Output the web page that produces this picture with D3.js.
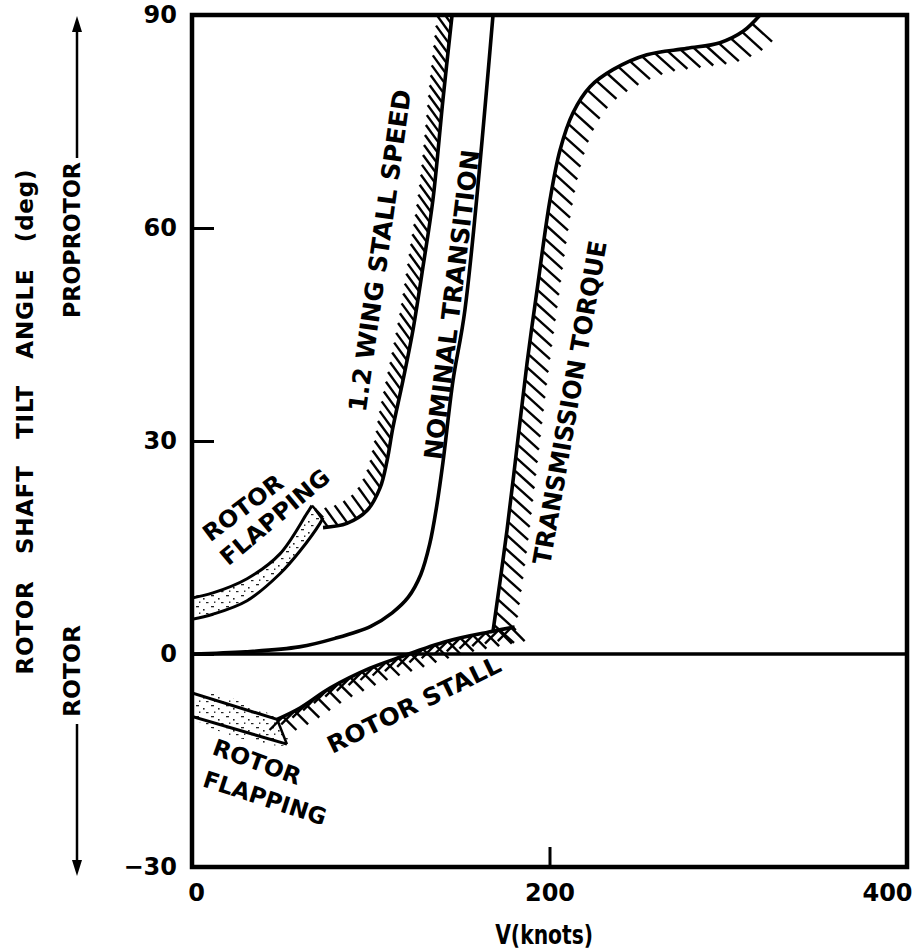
<!DOCTYPE html>
<html>
<head>
<meta charset="utf-8">
<script src="https://cdn.jsdelivr.net/npm/d3@7"></script>
<style>
body { margin: 0; background: #fff; }
text { font-family: "DejaVu Sans", "Liberation Sans", sans-serif; font-weight: bold; fill: #000; white-space: pre; }
</style>
</head>
<body>
<script>
//Width and height
var w = 917;
var h = 952;

//Tick values
var xTicks = [0, 200, 400];
var yTicks = [-30, 0, 30, 60, 90];

//Boundaries, [V knots, tilt deg]
var nominalTransition = [[0,0],[30,0.3],[60,1.0],[80,2.2],[100,3.9],[112,5.8],[121,8.0],[128,11.2],[133,15.5],[137,21],[140.4,27],[146,38.5],[152.7,48.5],[168.4,90]];
var wingStall = [[73.3,17.8],[86.7,18.4],[97.9,20.2],[105.2,23.4],[109.1,27.2],[112.4,31.9],[118,38.5],[123.6,45.6],[129.2,54.5],[134.8,64],[140.4,78.1],[145.5,90]];
var transmissionTorque = [[168.4,3.2],[176.2,17.4],[181.8,29.1],[187.4,40.9],[193,51.2],[200.3,64],[205.9,71],[213.1,76.2],[222.7,79.9],[235.5,82.3],[254.5,84.4],[276.9,85.3],[295.4,86.1],[308.3,87.7],[317.8,90]];
var rotorStall = [[47.6,-9.2],[60.4,-7.6],[77.2,-4.8],[99.6,-2.0],[114.7,-0.6],[142.7,1.8],[168.4,3.2],[180.5,3.8]];

//Rotor flapping bands: upper edge then lower edge
var flapHighTop = [[0,7.9],[11.7,8.6],[30.8,10.6],[49.2,14.1],[64.3,19.8],[67.1,20.9]];
var flapHighBottom = [[0,4.9],[11.7,5.6],[30.8,7.5],[49.2,11.3],[60.4,14.5],[71.6,18.4],[73.3,19.2]];
var flapLowTop = [[0,-5.5],[47.6,-9.2]];
var flapLowBottom = [[0,-8.8],[53.1,-12.7]];

var xScale = d3.scaleLinear().domain([0, 400]).range([192, 907]);
var yScale = d3.scaleLinear().domain([-30, 90]).range([867, 15]);

var svg = d3.select("body")
            .append("svg")
            .attr("width", w)
            .attr("height", h);

var defs = svg.append("defs");
defs.append("clipPath").attr("id", "plot")
    .append("rect")
    .attr("x", xScale(0)).attr("y", yScale(90))
    .attr("width", xScale(400) - xScale(0))
    .attr("height", yScale(-30) - yScale(90));

//stipple for the flapping bands
var stip = defs.append("pattern").attr("id", "stip")
    .attr("patternUnits", "userSpaceOnUse")
    .attr("width", 15).attr("height", 11);
stip.append("rect").attr("width", 15).attr("height", 11).attr("fill", "#fff");
[[1,1,3,1.3],[8,4,1.6,1.6],[4,7.5,1.4,1.4],[11,8,2.5,1.2]].forEach(function(r){
    stip.append("rect").attr("x", r[0]).attr("y", r[1]).attr("width", r[2]).attr("height", r[3]).attr("fill", "#222");
});

var line = d3.line()
            .x(function(d) { return xScale(d[0]); })
            .y(function(d) { return yScale(d[1]); })
            .curve(d3.curveCatmullRom.alpha(0.5));

var plot = svg.append("g").attr("clip-path", "url(#plot)");

//Hatch strokes along a drawn path
function hatch(pathNode, angles, len, step, cls) {
    var total = pathNode.getTotalLength();
    var g = plot.append("g").attr("class", cls)
                .attr("stroke", "#000").attr("stroke-width", 2.4);
    for (var s = step / 2; s <= total; s += step) {
        var p = pathNode.getPointAtLength(s);
        angles.forEach(function(a){
            var r = a * Math.PI / 180;
            g.append("line")
                .attr("x1", p.x).attr("y1", p.y)
                .attr("x2", p.x + len * Math.cos(r))
                .attr("y2", p.y + len * Math.sin(r));
        });
    }
}

//Flapping bands
function band(top, bottom) {
    var pts = top.concat(bottom.slice().reverse());
    plot.append("path")
        .attr("d", d3.line().x(function(d){ return xScale(d[0]); }).y(function(d){ return yScale(d[1]); })
                  .curve(d3.curveCatmullRomClosed.alpha(0.5))(pts))
        .attr("fill", "url(#stip)")
        .attr("stroke", "none");
    [top, bottom].forEach(function(edge){
        plot.append("path").attr("d", line(edge))
            .attr("fill", "none").attr("stroke", "#000").attr("stroke-width", 3);
    });
    plot.append("line")
        .attr("x1", xScale(top[top.length-1][0])).attr("y1", yScale(top[top.length-1][1]))
        .attr("x2", xScale(bottom[bottom.length-1][0])).attr("y2", yScale(bottom[bottom.length-1][1]))
        .attr("stroke", "#000").attr("stroke-width", 2.5);
}
band(flapHighTop, flapHighBottom);
band(flapLowTop, flapLowBottom);

//Zero line
plot.append("line")
    .attr("x1", xScale(0)).attr("x2", xScale(400))
    .attr("y1", yScale(0)).attr("y2", yScale(0))
    .attr("stroke", "#000").attr("stroke-width", 3.5);

//Boundary curves
function curve(data) {
    return plot.append("path")
        .datum(data)
        .attr("d", line)
        .attr("fill", "none")
        .attr("stroke", "#000")
        .attr("stroke-width", 3.6);
}
curve(nominalTransition);
var stallPath = curve(wingStall);
var torquePath = curve(transmissionTorque);
var rotorStallPath = curve(rotorStall);

hatch(stallPath.node(), [-126], 22, 10, "stall-hatch");
hatch(torquePath.node(), [42], 27, 13, "torque-hatch");
hatch(rotorStallPath.node(), [45, 135], 19, 13, "cross-hatch");

//Frame
svg.append("rect")
    .attr("x", xScale(0)).attr("y", yScale(90))
    .attr("width", xScale(400) - xScale(0))
    .attr("height", yScale(-30) - yScale(90))
    .attr("fill", "none").attr("stroke", "#000").attr("stroke-width", 4.5);

//Axes
var yAxis = svg.append("g")
    .attr("transform", "translate(" + xScale(0) + ",0)")
    .call(d3.axisLeft(yScale).tickValues(yTicks).tickSizeInner(-22).tickSizeOuter(0).tickPadding(15));
var xAxis = svg.append("g")
    .attr("transform", "translate(0," + yScale(-30) + ")")
    .call(d3.axisBottom(xScale).tickValues(xTicks).tickSizeInner(-20).tickSizeOuter(0).tickPadding(17));
[yAxis, xAxis].forEach(function(a){
    a.select(".domain").remove();
    a.selectAll(".tick line").attr("stroke", "#000").attr("stroke-width", 3);
    a.selectAll(".tick text").attr("font-size", 24).attr("font-family", null);
});
xAxis.selectAll(".tick text").attr("dx", function(d){ return d === 0 ? 4 : (d === 400 ? -20 : 0); });

//Axis titles
svg.append("text")
    .attr("x", xScale(197)).attr("y", 935)
    .attr("text-anchor", "middle").attr("dominant-baseline", "central")
    .attr("font-size", 26)
    .attr("textLength", 98).attr("lengthAdjust", "spacingAndGlyphs")
    .text("V(knots)");

function vText(txt, cx, cy, size, len, adjust) {
    svg.append("text")
        .attr("transform", "translate(" + cx + "," + cy + ") rotate(-90)")
        .attr("text-anchor", "middle").attr("dominant-baseline", "central")
        .attr("font-size", size)
        .attr("textLength", len).attr("lengthAdjust", adjust || "spacingAndGlyphs")
        .text(txt);
}
vText("ROTOR\u00a0\u00a0 SHAFT\u00a0\u00a0 TILT\u00a0\u00a0 ANGLE\u00a0\u00a0 (deg)", 25, 422, 23, 505, "spacing");
vText("PROPROTOR", 72, 240, 23, 156);
vText("ROTOR", 72, 671, 23, 92);

//Arrows beside the title
var arrows = svg.append("g").attr("stroke", "#000").attr("stroke-width", 2.5);
arrows.append("line").attr("x1", 77).attr("x2", 77).attr("y1", 158).attr("y2", 28);
arrows.append("line").attr("x1", 77).attr("x2", 77).attr("y1", 724).attr("y2", 862);
svg.append("path").attr("d", "M77,16 L72,32 L82,32 Z").attr("fill", "#000");
svg.append("path").attr("d", "M77,876 L72,860 L82,860 Z").attr("fill", "#000");

//Region labels, centred at [V, deg]
var labels = [
    {t: "ROTOR", at: [28.5, 20.6], rot: -37, size: 23, len: 94},
    {t: "FLAPPING", at: [46.4, 19.3], rot: -40, size: 23, len: 135},
    {t: "1.2 WING STALL SPEED", at: [105.2, 56.8], rot: -82, size: 25, len: 325},
    {t: "NOMINAL TRANSITION", at: [145.5, 49.2], rot: -83, size: 25, len: 312},
    {t: "TRANSMISSION TORQUE", at: [211.5, 35.4], rot: -80, size: 25, len: 328},
    {t: "ROTOR STALL", at: [124.2, -7.2], rot: -26, size: 24, len: 190},
    {t: "ROTOR", at: [36.4, -15.2], rot: 20, size: 23, len: 92},
    {t: "FLAPPING", at: [40.8, -20.3], rot: 18, size: 23, len: 128}
];
svg.append("g").selectAll("text")
    .data(labels)
    .enter()
    .append("text")
    .attr("transform", function(d){ return "translate(" + xScale(d.at[0]) + "," + yScale(d.at[1]) + ") rotate(" + d.rot + ")"; })
    .attr("text-anchor", "middle").attr("dominant-baseline", "central")
    .attr("font-size", function(d){ return d.size; })
    .attr("textLength", function(d){ return d.len; })
    .attr("lengthAdjust", "spacingAndGlyphs")
    .text(function(d){ return d.t; });
</script>
</body>
</html>
